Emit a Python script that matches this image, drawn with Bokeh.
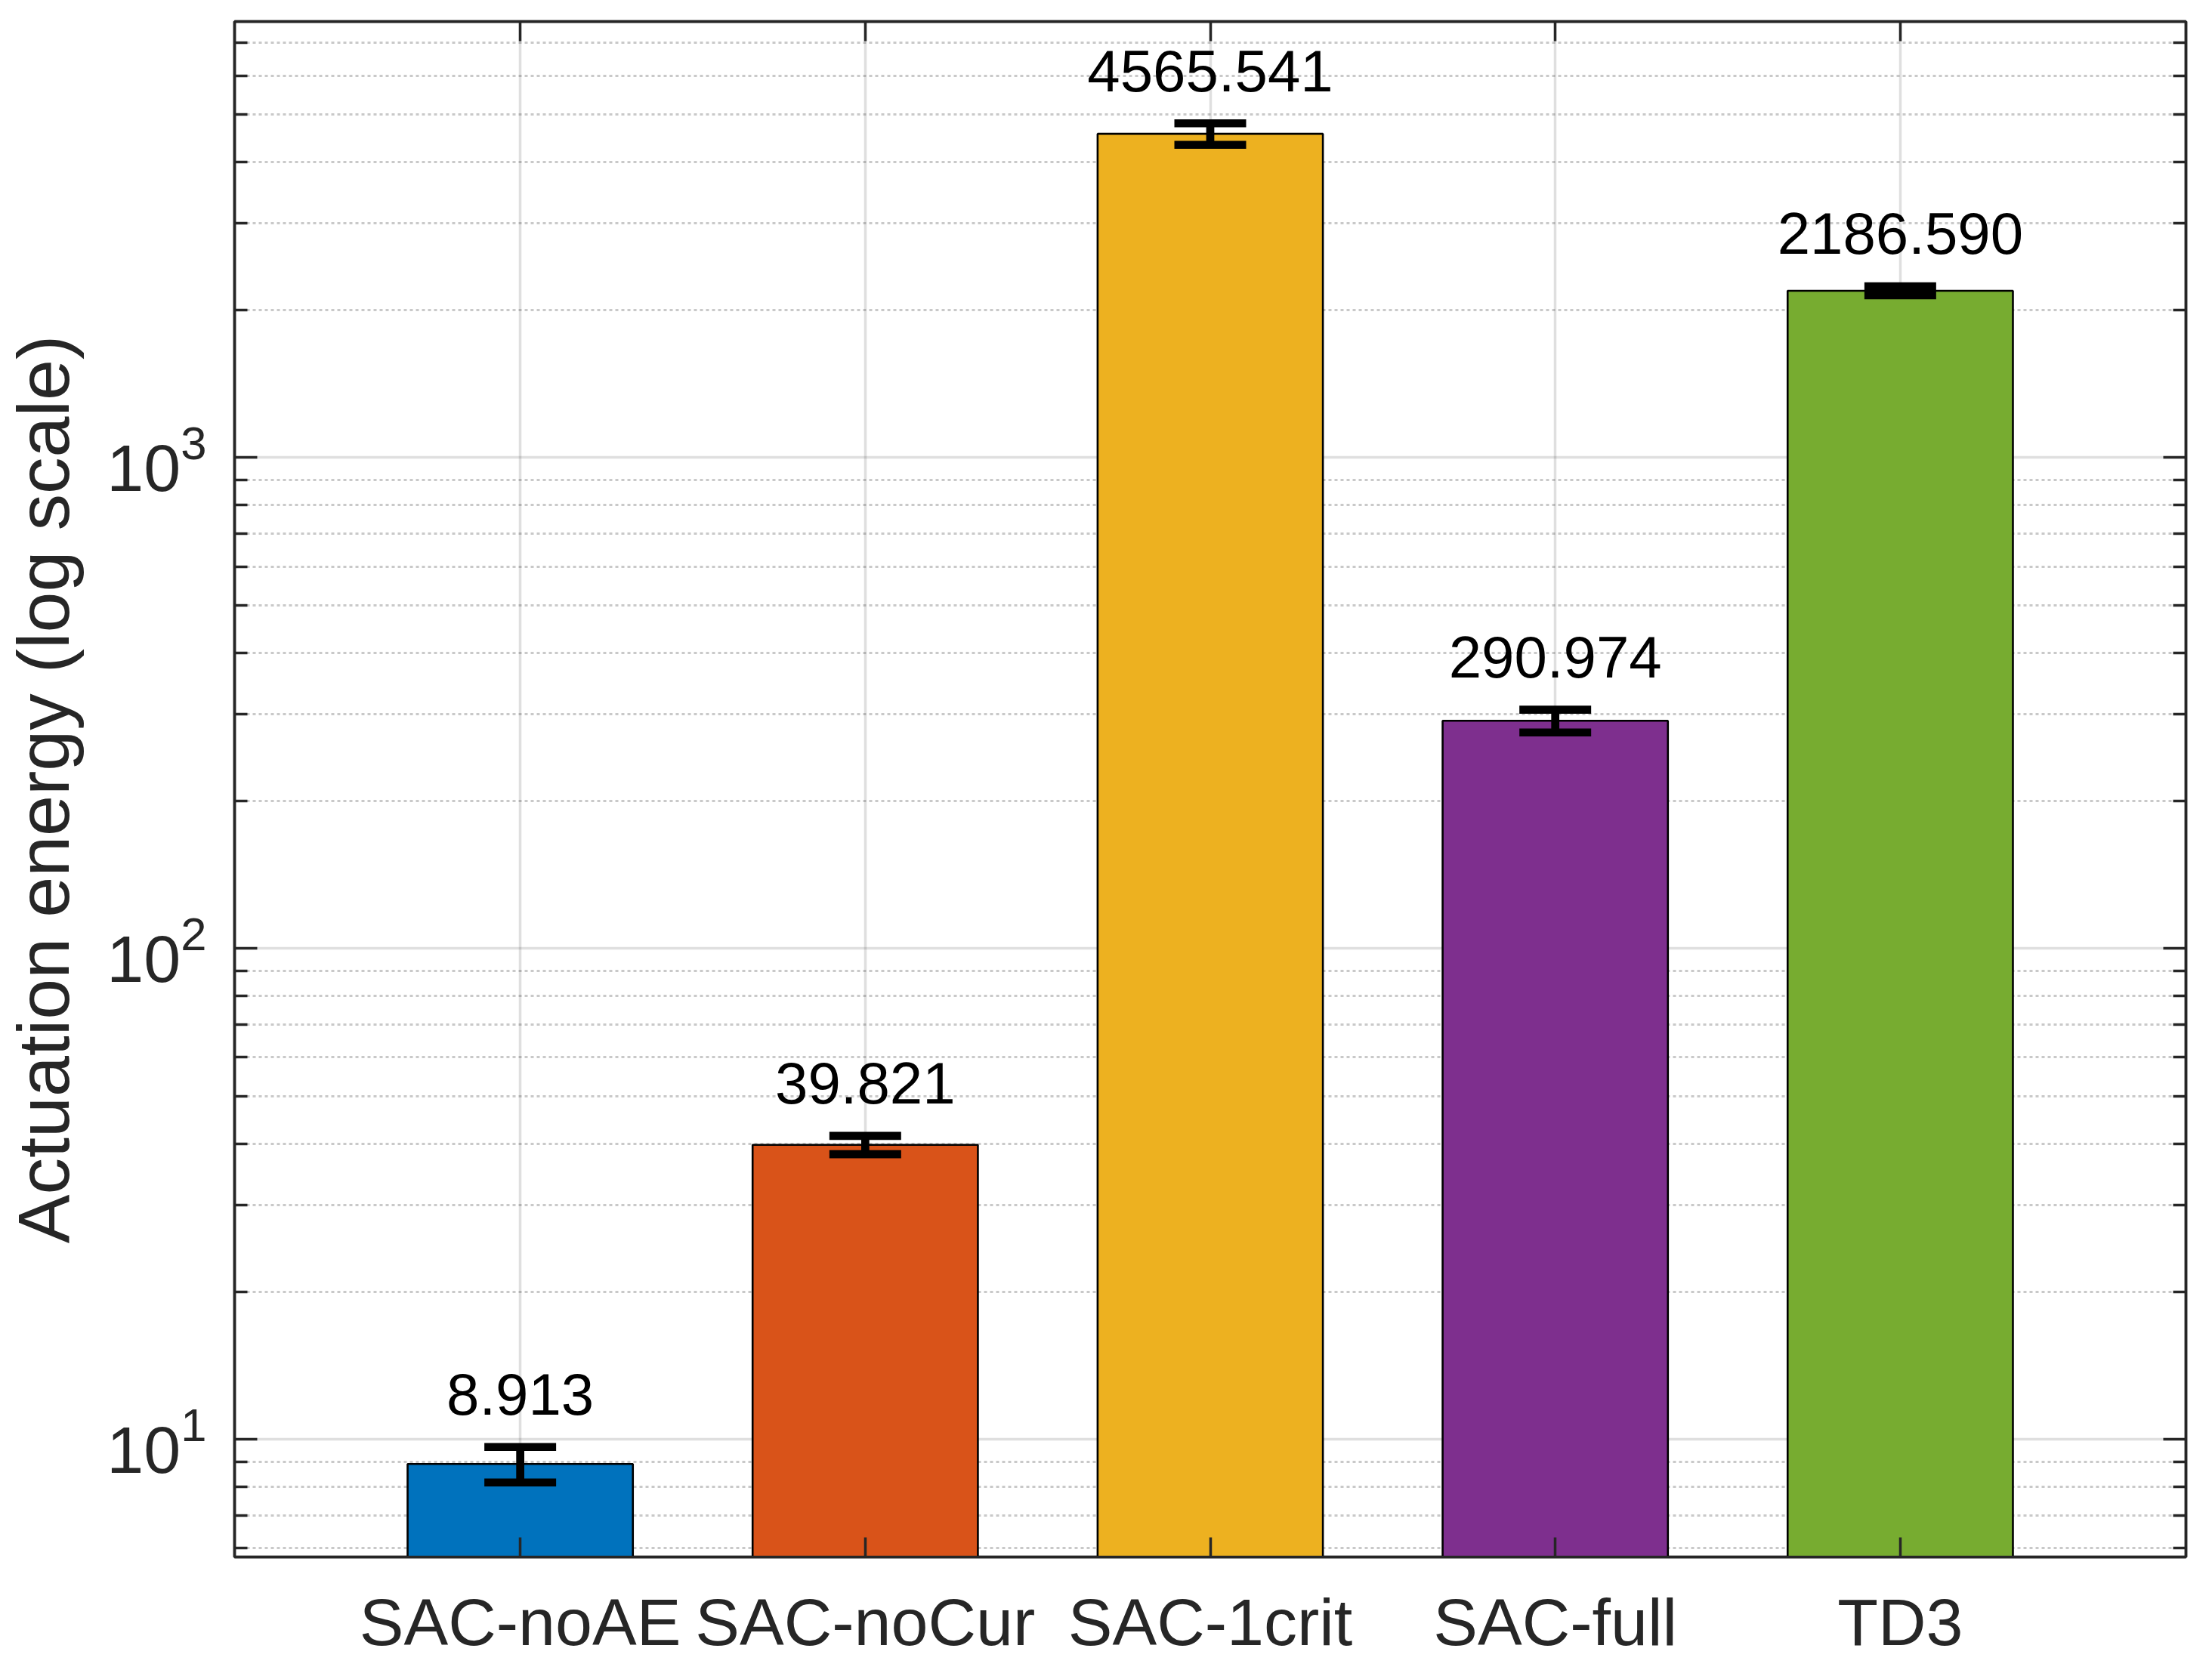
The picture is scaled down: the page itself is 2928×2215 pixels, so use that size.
import numpy as np
from bokeh.plotting import figure
from bokeh.models import Range1d, FixedTicker, LogAxis, LinearAxis, ColumnDataSource
from bokeh.core.properties import value
from bokeh.embed import file_html
from bokeh.resources import INLINE

# ---- data ----
categories = ["SAC-noAE", "SAC-noCur", "SAC-1crit", "SAC-full", "TD3"]
energy_mean = [8.913, 39.821, 4565.541, 290.974, 2186.590]
energy_err = [0.74, 1.7, 230.0, 15.5, 46.0]
bar_colors = ["#0072BD", "#D95319", "#EDB120", "#7E2F8E", "#77AC30"]
y_major_ticks = [10, 100, 1000]
y_minor_ticks = [6, 7, 8, 9,
                 20, 30, 40, 50, 60, 70, 80, 90,
                 200, 300, 400, 500, 600, 700, 800, 900,
                 2000, 3000, 4000, 5000, 6000, 7000]
y_limits = [5.76, 7730]
x_limits = [0.172, 5.828]
y_label = "Actuation energy (log scale)"

FONT = "Liberation Sans"
DARK = "#262626"
W, H = 2912, 2199

xpos = np.arange(1, len(categories) + 1)
mean = np.array(energy_mean)
err = np.array(energy_err)
cap_half = 0.104

src = ColumnDataSource(dict(
    x=xpos, top=mean, bottom=np.full(len(mean), 1.0), color=bar_colors,
    lo=mean - err, hi=mean + err,
    cl=xpos - cap_half, cr=xpos + cap_half,
    ly=(mean + err) * 1.28,
    lab=[f"{v:.3f}" for v in energy_mean],
))

p = figure(width=W, height=H, y_axis_type="log",
           x_range=Range1d(*x_limits), y_range=Range1d(*y_limits),
           output_backend="svg", toolbar_location=None,
           min_border_left=302, min_border_right=19,
           min_border_top=28, min_border_bottom=135)
p.background_fill_color = "white"
p.border_fill_color = "white"
p.outline_line_color = DARK
p.outline_line_width = 3.5

# bars
p.vbar(x="x", top="top", bottom="bottom", width=0.653, source=src,
       fill_color="color", line_color="black", line_width=2.6)
# error bars
p.segment(x0="x", y0="lo", x1="x", y1="hi", source=src,
          line_color="black", line_width=10.7, line_cap="butt")
p.segment(x0="cl", y0="hi", x1="cr", y1="hi", source=src,
          line_color="black", line_width=10.7, line_cap="butt")
p.segment(x0="cl", y0="lo", x1="cr", y1="lo", source=src,
          line_color="black", line_width=10.7, line_cap="butt")
# value labels
p.text(x="x", y="ly", text="lab", source=src, text_font=value(FONT),
       text_font_size="78px", text_align="center",
       text_baseline="alphabetic", text_color="black")

xticker = FixedTicker(ticks=list(xpos), minor_ticks=[])
yticker = FixedTicker(ticks=y_major_ticks, minor_ticks=y_minor_ticks)


def style(ax, is_y):
    ax.axis_line_color = DARK
    ax.axis_line_width = 3.5
    ax.major_tick_line_color = DARK
    ax.major_tick_line_width = 3.5
    ax.minor_tick_line_color = DARK
    ax.minor_tick_line_width = 3.5
    ax.major_tick_out = 0
    ax.minor_tick_out = 0
    if is_y:
        ax.major_tick_in = 30
        ax.minor_tick_in = 17
    else:
        ax.major_tick_in = 26
        ax.minor_tick_in = 0
    ax.major_label_text_font = FONT
    ax.major_label_text_color = DARK
    ax.axis_label_text_font = FONT
    ax.axis_label_text_color = DARK
    ax.axis_label_text_font_style = "normal"


# bottom axis
xa = p.xaxis[0]
xa.ticker = xticker
xa.major_label_overrides = {int(i): c for i, c in zip(xpos, categories)}
style(xa, False)
xa.major_label_text_font_size = "88px"
xa.major_label_standoff = 36

# left axis
ya = p.yaxis[0]
ya.ticker = yticker
style(ya, True)
ya.major_label_text_font_size = "88px"
ya.major_label_standoff = 37
ya.axis_label = y_label
ya.axis_label_text_font_size = "97px"
ya.axis_label_standoff = 26

# mirrored axes (ticks only, labels not drawn)
ra = LogAxis(ticker=yticker)
style(ra, True)
ra.major_label_text_font_size = "1px"
ra.major_label_text_color = None
ra.major_label_standoff = 0
p.add_layout(ra, "right")

ta = LinearAxis(ticker=xticker)
style(ta, False)
ta.major_label_text_font_size = "1px"
ta.major_label_text_color = None
ta.major_label_standoff = 0
p.add_layout(ta, "above")

# grids
p.xgrid.grid_line_color = DARK
p.xgrid.grid_line_alpha = 0.15
p.xgrid.grid_line_width = 3.5
p.ygrid.grid_line_color = DARK
p.ygrid.grid_line_alpha = 0.15
p.ygrid.grid_line_width = 3.5
p.ygrid.minor_grid_line_color = DARK
p.ygrid.minor_grid_line_alpha = 0.25
p.ygrid.minor_grid_line_width = 3
p.ygrid.minor_grid_line_dash = "4 4"

open("out.html", "w").write(file_html(p, INLINE))
